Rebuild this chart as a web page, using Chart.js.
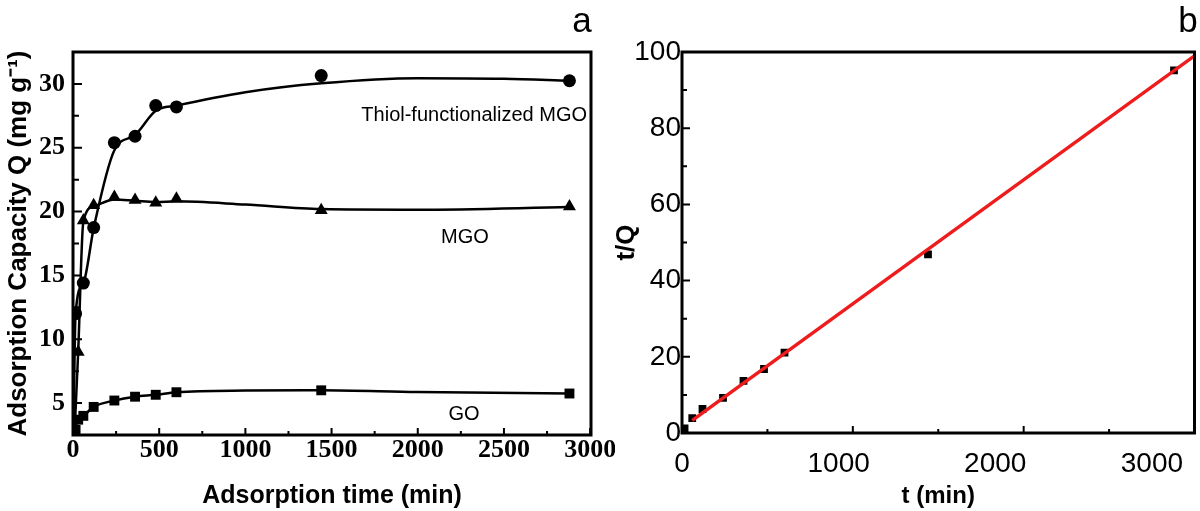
<!DOCTYPE html>
<html>
<head>
<meta charset="utf-8">
<script src="https://cdn.jsdelivr.net/npm/chart.js@4.4.1/dist/chart.umd.min.js"></script>
<style>
  html, body { margin: 0; padding: 0; background: #fff; }
  #wrap { position: relative; width: 1200px; height: 511px; overflow: hidden; }
  #kinetics { position: absolute; left: 0; top: 0; }
  #pseudo { position: absolute; left: 600px; top: 0; }
</style>
</head>
<body>
<div id="wrap">
  <canvas id="kinetics" width="615" height="511"></canvas>
  <canvas id="pseudo" width="600" height="511"></canvas>
</div>
<script>
// panel a - measured adsorption capacity vs time
const thiolTime = [15, 60, 120, 240, 360, 480, 600, 1440, 2880];
const thiolQ    = [12.0, 14.4, 18.75, 25.4, 25.9, 28.3, 28.2, 30.65, 30.25];
const mgoTime   = [30, 60, 120, 240, 360, 480, 600, 1440, 2880];
const mgoQ      = [9.0, 19.3, 20.5, 21.15, 20.9, 20.7, 21.0, 20.1, 20.4];
const goTime    = [15, 30, 60, 120, 240, 360, 480, 600, 1440, 2880];
const goQ       = [2.9, 3.7, 4.0, 4.7, 5.2, 5.5, 5.65, 5.85, 6.0, 5.75];

// panel a - smoothed curves
const thiolCurveT = [0, 15, 60, 120, 240, 360, 480, 600, 1000, 1440, 2000, 2500, 2880];
const thiolCurveQ = [0, 12.0, 14.4, 18.7, 24.8, 26.0, 27.9, 28.3, 29.35, 30.05, 30.45, 30.4, 30.25];
const mgoCurveT   = [0, 30, 60, 120, 240, 360, 480, 600, 1000, 1440, 2000, 2880];
const mgoCurveQ   = [0, 9.0, 19.2, 20.4, 20.95, 20.85, 20.75, 20.8, 20.55, 20.2, 20.15, 20.35];
const goCurveT    = [0, 15, 30, 60, 120, 240, 360, 480, 600, 1000, 1440, 2000, 2880];
const goCurveQ    = [0, 2.9, 3.7, 4.0, 4.7, 5.2, 5.5, 5.65, 5.85, 5.98, 6.0, 5.86, 5.75];

// panel b - pseudo-second-order plot
const plotTime  = [15, 60, 120, 240, 360, 480, 600, 1440, 2880];
const plotTQ    = [1.2, 3.9, 6.3, 9.2, 13.7, 16.8, 21.1, 46.9, 95.2];
const fitTime   = [60, 3000];
const fitTQ     = [3.3, 99.0];

// ticks
const aXMajor = [0, 500, 1000, 1500, 2000, 2500, 3000];
const aXMinor = [250, 750, 1250, 1750, 2250, 2750];
const aYMajor = [5, 10, 15, 20, 25, 30];
const aYMinor = [7.5, 12.5, 17.5, 22.5, 27.5];
const bXMajor = [1000, 2000];
const bXMinor = [500, 1500, 2500];
const bXLabels = [0, 1000, 2000, 3000];
const bYMajor = [0, 20, 40, 60, 80, 100];
const bYMinor = [10, 30, 50, 70, 90];

Chart.defaults.font.family = '"Liberation Sans", Arial, sans-serif';
Chart.defaults.color = '#000';

const pts = (xs, ys) => xs.map((x, i) => ({ x: x, y: ys[i] }));
const plain = v => String(v);

// box frame, inward tick marks and text notes
const frameTicks = {
    id: 'frameTicks',
    afterDatasetsDraw(chart, args, opts) {
        const { ctx, chartArea: a, scales } = chart;
        const sx = scales.x, sy = scales.y;
        ctx.save();
        ctx.strokeStyle = '#000';
        ctx.lineWidth = 2;
        ctx.beginPath();
        const xt = (list, len) => list.forEach(v => {
            const px = sx.getPixelForValue(v);
            ctx.moveTo(px, a.bottom); ctx.lineTo(px, a.bottom - len);
        });
        const yt = (list, len) => list.forEach(v => {
            const py = sy.getPixelForValue(v);
            ctx.moveTo(a.left, py); ctx.lineTo(a.left + len, py);
        });
        xt(opts.xMajor, opts.xLen[0]); xt(opts.xMinor, opts.xLen[1]);
        yt(opts.yMajor, opts.yLen[0]); yt(opts.yMinor, opts.yLen[1]);
        ctx.stroke();
        ctx.lineWidth = 3;
        ctx.strokeRect(a.left, a.top, a.right - a.left, a.bottom - a.top);
        ctx.fillStyle = '#000';
        ctx.textBaseline = 'alphabetic';
        opts.notes.forEach(n => {
            ctx.font = n.size + 'px "Liberation Sans", Arial, sans-serif';
            ctx.textAlign = n.align;
            ctx.fillText(n.text, n.x, n.y);
        });
        ctx.restore();
    }
};

const hidden = { display: false, drawTicks: false };

const curve = (xs, ys) => ({
    data: pts(xs, ys),
    showLine: true,
    cubicInterpolationMode: 'monotone',
    borderColor: '#000',
    borderWidth: 2.5,
    pointRadius: 0
});
const markers = (xs, ys, style, r) => ({
    data: pts(xs, ys),
    pointStyle: style,
    pointRadius: r,
    pointBorderWidth: 0,
    backgroundColor: '#000',
    borderColor: '#000'
});

new Chart(document.getElementById('kinetics'), {
    type: 'scatter',
    data: {
        datasets: [
            Object.assign(markers(thiolTime, thiolQ, 'circle', 6.5), { label: 'Thiol-functionalized MGO' }),
            Object.assign(markers(mgoTime, mgoQ, 'triangle', 7.5), { label: 'MGO' }),
            Object.assign(markers(goTime, goQ, 'rect', 7), { label: 'GO' }),
            curve(thiolCurveT, thiolCurveQ),
            curve(mgoCurveT, mgoCurveQ),
            curve(goCurveT, goCurveQ)
        ]
    },
    options: {
        responsive: false,
        animation: false,
        layout: { padding: { top: 52, right: 24, left: 0, bottom: 0 } },
        plugins: {
            legend: { display: false },
            tooltip: { enabled: false },
            frameTicks: {
                xMajor: aXMajor, xMinor: aXMinor, xLen: [7, 4],
                yMajor: aYMajor, yMinor: aYMinor, yLen: [9, 6],
                notes: [
                    { text: 'Thiol-functionalized MGO', x: 587, y: 121, size: 20, align: 'right' },
                    { text: 'MGO', x: 465, y: 243, size: 20, align: 'center' },
                    { text: 'GO', x: 464, y: 420, size: 20, align: 'center' },
                    { text: 'a', x: 582, y: 32, size: 35, align: 'center' }
                ]
            }
        },
        scales: {
            x: {
                type: 'linear', min: 0, max: 3005,
                grid: hidden, border: { display: false },
                ticks: { font: { family: '"Liberation Serif", serif', weight: 'bold', size: 26 }, padding: 0, maxRotation: 0, autoSkip: false, callback: plain },
                afterBuildTicks: s => { s.ticks = aXMajor.map(v => ({ value: v })); },
                afterFit: s => { s.height = 76; s.paddingLeft = 0; s.paddingRight = 0; },
                title: { display: true, text: 'Adsorption time (min)', font: { size: 25, weight: 'bold' }, padding: { top: 9, bottom: 0 } }
            },
            y: {
                type: 'linear', min: 2.5, max: 32.5,
                grid: hidden, border: { display: false },
                ticks: { font: { family: '"Liberation Serif", serif', weight: 'bold', size: 26 }, padding: 8, callback: plain },
                afterBuildTicks: s => { s.ticks = aYMajor.map(v => ({ value: v })); },
                afterFit: s => { s.width = 73; s.paddingTop = 0; s.paddingBottom = 0; },
                title: { display: true, text: 'Adsorption Capacity Q (mg g\u207B\u00B9)', font: { size: 26, weight: 'bold' }, padding: { top: 3, bottom: 0 } }
            }
        }
    },
    plugins: [frameTicks]
});

new Chart(document.getElementById('pseudo'), {
    type: 'scatter',
    data: {
        datasets: [
            {
                label: 'fit',
                data: pts(fitTime, fitTQ),
                showLine: true,
                borderColor: '#ee1c1c',
                borderWidth: 3.5,
                pointRadius: 0
            },
            Object.assign(markers(plotTime, plotTQ, 'rect', 5.5), { label: 't/Q' })
        ]
    },
    options: {
        responsive: false,
        animation: false,
        layout: { padding: { top: 52, right: 2, left: 0, bottom: 0 } },
        plugins: {
            legend: { display: false },
            tooltip: { enabled: false },
            frameTicks: {
                xMajor: bXMajor, xMinor: bXMinor, xLen: [7, 4],
                yMajor: bYMajor, yMinor: bYMinor, yLen: [8, 5],
                notes: [
                    { text: 'b', x: 588, y: 32, size: 35, align: 'center' }
                ]
            }
        },
        scales: {
            x: {
                type: 'linear', min: 0, max: 3000, weight: 0,
                grid: hidden, border: { display: false },
                ticks: { display: false },
                afterFit: s => { s.height = 0; s.paddingLeft = 0; s.paddingRight = 0; }
            },
            // label row: the figure's tick labels sit slightly left of their tick marks
            xl: {
                type: 'linear', position: 'bottom', min: 0, max: 3272, weight: 1,
                grid: hidden, border: { display: false },
                ticks: { font: { size: 28 }, padding: 14, maxRotation: 0, autoSkip: false, callback: plain },
                afterBuildTicks: s => { s.ticks = bXLabels.map(v => ({ value: v })); },
                afterFit: s => { s.height = 78; s.paddingLeft = 0; s.paddingRight = 0; },
                title: { display: true, text: 't (min)', font: { size: 24, weight: 'bold' }, padding: { top: 7, bottom: 0 } }
            },
            y: {
                type: 'linear', min: 0, max: 100,
                grid: hidden, border: { display: false },
                ticks: { font: { size: 28 }, padding: 1, callback: plain },
                afterBuildTicks: s => { s.ticks = bYMajor.map(v => ({ value: v })); },
                afterFit: s => { s.width = 82; s.paddingTop = 0; s.paddingBottom = 0; },
                title: { display: true, text: 't/Q', font: { size: 26, weight: 'bold' }, padding: { top: 11, bottom: 0 } }
            }
        }
    },
    plugins: [frameTicks]
});
</script>
</body>
</html>
